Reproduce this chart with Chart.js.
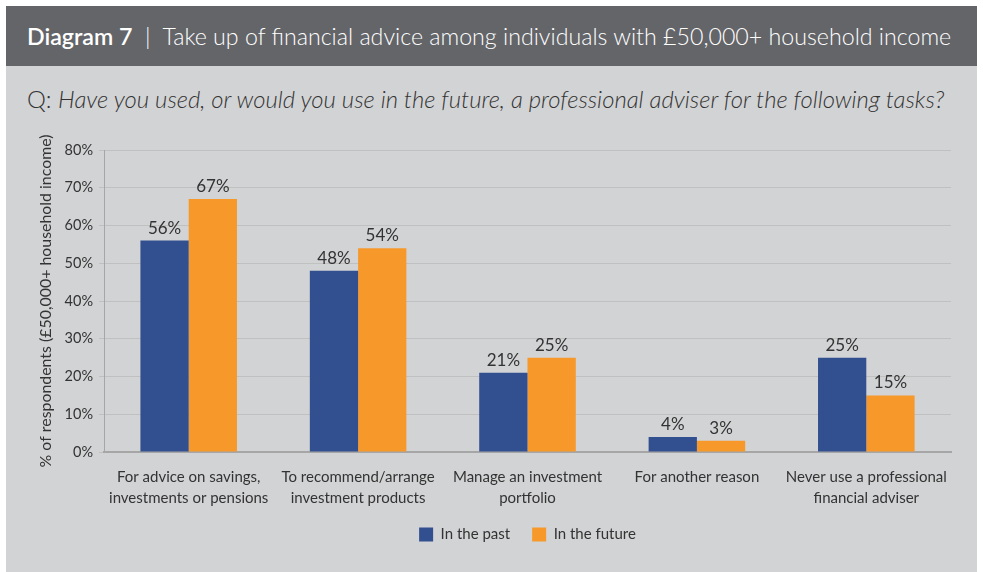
<!DOCTYPE html>
<html>
<head>
<meta charset="utf-8">
<script src="https://cdn.jsdelivr.net/npm/chart.js@4/dist/chart.umd.min.js"></script>
<style>
  html, body { margin: 0; padding: 0; background: #ffffff; }
  body { width: 983px; height: 572px; position: relative; overflow: hidden; font-family: Lato, "Open Sans", sans-serif; }
  #panel { position: absolute; left: 6px; top: 6px; width: 971px; height: 566px; background: #d2d3d5; }
  #header { position: absolute; left: 0; top: 0; width: 971px; height: 60px; background: #646569; color: #ffffff; font-size: 23.2px; line-height: 60px; white-space: nowrap; }
  #header span.t { position: absolute; left: 21px; top: 0; }
  #header b { font-weight: 600; }
  #header .light { font-weight: 300; }
  #question { position: absolute; left: 21px; top: 78px; font-size: 23.85px; color: #333333; white-space: nowrap; font-weight: 300; }
  #question i { font-style: italic; }
  #wrap { position: absolute; left: 0; top: 114px; width: 971px; height: 452px; }
</style>
</head>
<body>
<div id="panel">
  <div id="header"><span class="t"><b>Diagram 7</b><span class="light">&nbsp; | &nbsp;Take up of financial advice among individuals with £50,000+ household income</span></span></div>
  <div id="question">Q: <i>Have you used, or would you use in the future, a professional adviser for the following tasks?</i></div>
  <div id="wrap"><canvas id="chart" width="971" height="452"></canvas></div>
</div>
<script>
// Survey answers, per cent of respondents with £50,000+ household income
const categories = [
  ["For advice on savings,", "investments or pensions"],
  ["To recommend/arrange", "investment products"],
  ["Manage an investment", "portfolio"],
  ["For another reason"],
  ["Never use a professional", "financial adviser"]
];
const pastValues = [56, 48, 21, 4, 25];
const futureValues = [67, 54, 25, 3, 15];
const seriesNames = ["In the past", "In the future"];
const yTicks = [0, 10, 20, 30, 40, 50, 60, 70, 80];
const yTitle = "% of respondents (£50,000+ household income)";

const BLUE = "#324f90";
const ORANGE = "#f7982a";
const TEXT = "#333333";
const FONT = "Lato, 'Open Sans', sans-serif";

// Writes each bar's value above it
const valueLabels = {
  id: "valueLabels",
  afterDatasetsDraw(chart) {
    const ctx = chart.ctx;
    ctx.save();
    ctx.font = "17px " + FONT;
    ctx.fillStyle = TEXT;
    ctx.textAlign = "center";
    ctx.textBaseline = "alphabetic";
    chart.data.datasets.forEach((ds, di) => {
      chart.getDatasetMeta(di).data.forEach((bar, i) => {
        ctx.fillText(ds.data[i] + "%", bar.x, bar.y - 7);
      });
    });
    ctx.restore();
  }
};

// Pulls the legend a little closer to the category labels
const legendLift = {
  id: "legendLift",
  afterLayout(chart) {
    if (chart.legend) {
      chart.legend.top -= 10;
      chart.legend.bottom -= 10;
    }
  }
};

new Chart(document.getElementById("chart"), {
  type: "bar",
  data: {
    labels: categories,
    datasets: [
      { label: seriesNames[0], data: pastValues, backgroundColor: BLUE, borderWidth: 0 },
      { label: seriesNames[1], data: futureValues, backgroundColor: ORANGE, borderWidth: 0 }
    ]
  },
  options: {
    responsive: false,
    animation: false,
    devicePixelRatio: 1,
    layout: { padding: { top: 30, right: 26, left: 0, bottom: 10 } },
    datasets: { bar: { categoryPercentage: 0.57, barPercentage: 1.0 } },
    plugins: {
      legend: {
        position: "bottom",
        fullSize: false,
        labels: {
          boxWidth: 14, boxHeight: 14, padding: 22,
          color: TEXT,
          font: { family: FONT, size: 15 }
        }
      },
      tooltip: { enabled: false }
    },
    scales: {
      x: {
        grid: { display: false, drawTicks: false },
        border: { display: true, color: "#a6a6a6", width: 2 },
        ticks: {
          color: TEXT, padding: 15, maxRotation: 0, autoSkip: false,
          font: { family: FONT, size: 15, lineHeight: 1.38 }
        },
        afterFit(scale) { scale.height = 63; }
      },
      y: {
        min: 0, max: 80,
        afterBuildTicks(scale) { scale.ticks = yTicks.map(v => ({ value: v })); },
        grid: { color: "#c0c0c0", lineWidth: 1, tickLength: 5, drawTicks: true },
        border: { display: true, color: "#a6a6a6", width: 1 },
        ticks: {
          color: TEXT, padding: 6,
          font: { family: FONT, size: 14.5 },
          callback: v => v + "%"
        },
        title: {
          display: true, text: yTitle, color: TEXT, padding: { top: 30, bottom: 0 },
          font: { family: FONT, size: 15.9 }
        },
        afterFit(scale) { scale.width = 98; }
      }
    }
  },
  plugins: [valueLabels, legendLift]
});
</script>
</body>
</html>
